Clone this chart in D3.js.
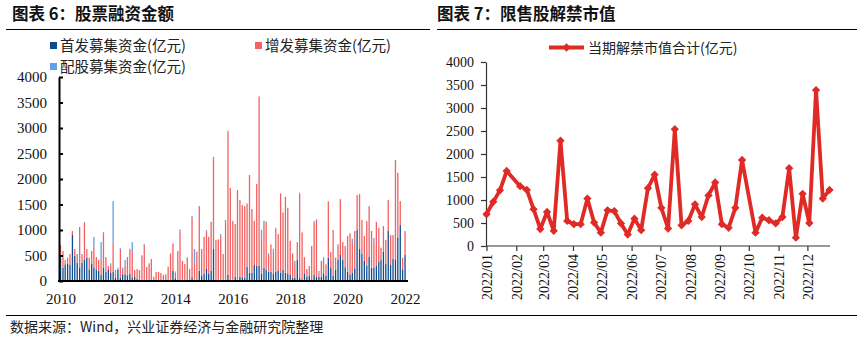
<!DOCTYPE html>
<html><head><meta charset="utf-8">
<script src="https://cdn.jsdelivr.net/npm/d3@7"></script>
<style>body{margin:0;background:#fff}svg{display:block}</style>
</head><body>
<svg id="c" width="864" height="343"></svg>
<script>
// ---------- Data: chart 6 (monthly, 2010-01 .. 2022-01) ----------
const startMonth = "2010-01";
const ipo = [464,261,327,333,313,901,496,359,268,359,424,457,229,333,268,229,202,118,255,183,215,157,176,65,
215,65,131,131,111,137,72,78,39,20,0,0,0,0,0,0,0,0,0,0,0,0,0,196,
52,0,20,0,0,0,0,72,20,0,202,111,137,235,137,196,627,20,20,20,0,20,118,20,20,85,20,85,72,65,281,163,163,313,294,294,137,261,215,183,183,150,176,202,163,215,163,150,
118,65,65,411,65,33,137,85,98,33,118,85,85,85,150,98,457,268,98,215,411,509,411,268,183,118,163,248,999,627,529,398,294,477,261,261,294,379,411,575,333,980,313,438,411,855,1097,229,509];
const spo = [241,327,84,124,216,79,131,150,790,131,719,170,228,255,385,241,209,293,679,287,79,150,562,85,
33,562,84,169,359,483,516,137,196,195,503,712,274,333,431,85,176,176,157,118,131,281,542,542,
111,588,946,392,333,464,235,1168,326,575,1267,477,731,731,731,966,1763,783,796,868,529,1155,2812,1808,1142,1032,1763,1502,1417,1404,1227,1914,1248,869,1606,3326,718,836,947,326,535,444,856,719,1554,1130,1489,1287,
672,477,281,353,1652,920,320,150,196,653,1025,1123,65,307,261,229,1097,300,901,242,294,1078,353,418,699,816,588,732,686,1071,666,484,881,992,719,510,868,666,242,502,470,607,588,463,1959,1267,470,228,471];
const rights = [0,0,0,0,0,0,0,20,0,39,13,0,0,0,209,0,0,353,26,0,0,39,829,65,
13,13,46,111,0,13,176,0,0,0,0,13,0,13,0,0,0,0,0,0,0,0,0,0,
20,0,46,0,0,0,0,33,281,0,0,39,0,33,0,0,45,0,0,33,0,20,17,0,20,0,0,0,0,0,13,0,0,0,0,0,144,85,0,33,0,39,13,0,0,0,0,0,
0,0,46,0,13,0,13,0,0,0,32,0,46,0,53,0,13,0,0,0,13,19,0,0,0,0,78,0,0,13,0,0,0,0,0,71,0,0,0,0,0,0,0,0,0,0,0,0,0];
const seriesNames6 = ["首发募集资金(亿元)","增发募集资金(亿元)","配股募集资金(亿元)"];
const xYears6 = ["2010","2012","2014","2016","2018","2020","2022"];
const yTicks = [0,500,1000,1500,2000,2500,3000,3500,4000];

// ---------- Data: chart 7 (weekly 2022) ----------
const weeks7 = ["2022-01-01","2022-01-08","2022-01-15","2022-01-22","2022-02-05","2022-02-12","2022-02-19","2022-02-26",
"2022-03-05","2022-03-12","2022-03-19","2022-03-26","2022-04-02","2022-04-09","2022-04-16","2022-04-23","2022-04-30",
"2022-05-07","2022-05-14","2022-05-21","2022-05-28","2022-06-04","2022-06-11","2022-06-18","2022-06-25",
"2022-07-02","2022-07-09","2022-07-16","2022-07-23","2022-07-30","2022-08-06","2022-08-13","2022-08-20","2022-08-27",
"2022-09-03","2022-09-10","2022-09-17","2022-09-24","2022-10-08","2022-10-15","2022-10-22","2022-10-29",
"2022-11-05","2022-11-12","2022-11-19","2022-11-26","2022-12-03","2022-12-10","2022-12-17","2022-12-24"];
const unlock7 = [690,960,1210,1630,1300,1220,800,370,740,330,2290,545,475,475,1030,510,290,775,760,490,250,
595,345,1255,1550,830,380,2540,450,545,905,630,1100,1380,475,395,830,1870,290,615,560,490,630,1690,180,1135,500,3390,1030,1220];
const seriesName7 = "当期解禁市值合计(亿元)";
const monthTicks7 = ["2022-01-01","2022-02-01","2022-03-01","2022-04-01","2022-05-01","2022-06-01","2022-07-01","2022-08-01","2022-09-01","2022-10-01","2022-11-01","2022-12-01"];

// ---------- Drawing ----------
const svg = d3.select("#c");
const CJK = "'Noto Sans CJK SC','Noto Sans',sans-serif";
const NUM = "'Liberation Serif','Times New Roman',serif";
const cDark = "#0E4C8C", cRed = "#F26262", cLight = "#62A0E2", cLine = "#E02A25";
const fmt = d3.format("d");

// titles & rules
svg.append("text").attr("x",12).attr("y",20).attr("font-family",CJK).attr("font-weight",700).attr("font-size",16.5).attr("fill","#111").text("图表 6：股票融资金额");
svg.append("text").attr("x",437).attr("y",20).attr("font-family",CJK).attr("font-weight",700).attr("font-size",16.5).attr("fill","#111").text("图表 7：限售股解禁市值");
svg.append("line").attr("x1",6).attr("x2",430).attr("y1",29.5).attr("y2",29.5).attr("stroke","#000").attr("stroke-width",1);
svg.append("line").attr("x1",437).attr("x2",857).attr("y1",29.5).attr("y2",29.5).attr("stroke","#000").attr("stroke-width",1);
svg.append("line").attr("x1",6).attr("x2",857).attr("y1",315.5).attr("y2",315.5).attr("stroke","#000").attr("stroke-width",1);
svg.append("text").attr("x",10).attr("y",332).attr("font-family",CJK).attr("font-size",14).attr("fill","#222").text("数据来源：Wind，兴业证券经济与金融研究院整理");

// ----- chart 6 -----
const parseM = d3.timeParse("%Y-%m");
const m0 = parseM(startMonth);
const rows6 = ipo.map((v,i)=>({date:d3.timeMonth.offset(m0,i), a:v, b:spo[i], c:rights[i]}));
const xL = d3.scaleTime().domain([new Date(2010,0,1), new Date(2022,0,1)]).range([60.5,405]);
const yL = d3.scaleLinear().domain([0,4000]).range([281,77]);
const stack = d3.stack().keys(["a","b","c"])(rows6);
const cols6 = [cDark,cRed,cLight];
const gL = svg.append("g");
stack.forEach((s,k)=>{
  gL.append("g").selectAll("rect").data(s).join("rect")
    .attr("x",d=>xL(d.data.date)-0.6).attr("width",1.3)
    .attr("y",d=>yL(d[1])).attr("height",d=>Math.max(0,yL(d[0])-yL(d[1])))
    .attr("fill",cols6[k]);
});
const yAxL = svg.append("g").attr("transform","translate(59,0)")
  .call(d3.axisLeft(yL).tickValues(yTicks).tickFormat(fmt).tickSizeInner(-4).tickSizeOuter(0).tickPadding(12));
yAxL.select(".domain").attr("stroke","#000").attr("stroke-width",2);
yAxL.selectAll(".tick line").attr("stroke","#000").attr("stroke-width",2);
yAxL.selectAll("text").attr("font-family",NUM).attr("font-size",15).attr("fill","#111");
const xAxL = svg.append("g").attr("transform","translate(0,281)")
  .call(d3.axisBottom(xL).tickValues(xYears6.map(y=>new Date(+y,0,1))).tickFormat(d3.timeFormat("%Y")).tickSize(0).tickPadding(12));
xAxL.select(".domain").attr("d","M58,0H408").attr("stroke","#000").attr("stroke-width",2);
xAxL.selectAll("text").attr("font-family",NUM).attr("font-size",15).attr("fill","#111");

// legend 6
const leg6 = [[50,45.5,0],[255,45.5,1],[50,66.5,2]];
leg6.forEach(([x,y,k])=>{
  svg.append("rect").attr("x",x).attr("y",y-3.5).attr("width",7).attr("height",7).attr("fill",cols6[k]);
  svg.append("text").attr("x",x+10).attr("y",y+5).attr("font-family",CJK).attr("font-size",14.5).attr("fill","#222").text(seriesNames6[k]);
});

// ----- chart 7 -----
const parseD = d3.timeParse("%Y-%m-%d");
const rows7 = weeks7.map((d,i)=>({date:parseD(d), v:unlock7[i]}));
const xR = d3.scaleTime().domain([parseD("2022-01-01"), parseD("2022-12-24")]).range([486.5,829.5]);
const yR = d3.scaleLinear().domain([0,4000]).range([246,62]);
const yAxR = svg.append("g").attr("transform","translate(486,0)")
  .call(d3.axisLeft(yR).tickValues(yTicks).tickFormat(fmt).tickSizeInner(5).tickSizeOuter(0).tickPadding(7));
yAxR.select(".domain").attr("stroke","#333").attr("stroke-width",1.2);
yAxR.selectAll(".tick line").attr("stroke","#333").attr("stroke-width",1.2);
yAxR.selectAll("text").attr("font-family",NUM).attr("font-size",14).attr("fill","#111");
const xAxR = svg.append("g").attr("transform","translate(0,246)")
  .call(d3.axisBottom(xR).tickValues(monthTicks7.map(parseD)).tickFormat(d3.timeFormat("%Y/%m")).tickSizeInner(5).tickSizeOuter(0));
xAxR.select(".domain").attr("d","M486,0H830").attr("stroke","#333").attr("stroke-width",1.2);
xAxR.selectAll(".tick line").attr("stroke","#333").attr("stroke-width",1.2);
xAxR.selectAll("text").attr("font-family",NUM).attr("font-size",14).attr("fill","#111")
  .attr("transform","rotate(-90)").attr("text-anchor","end").attr("x",-8).attr("y",0).attr("dy","0.35em");

const line = d3.line().x(d=>xR(d.date)).y(d=>yR(d.v));
svg.append("path").datum(rows7).attr("d",line).attr("fill","none").attr("stroke",cLine).attr("stroke-width",3.8).attr("stroke-linejoin","round");
const diamond = d3.symbol().type(d3.symbolDiamond2).size(44);
svg.append("g").selectAll("path").data(rows7).join("path")
  .attr("transform",d=>`translate(${xR(d.date)},${yR(d.v)})`).attr("d",diamond).attr("fill",cLine);

// legend 7
svg.append("line").attr("x1",549).attr("x2",584).attr("y1",47.5).attr("y2",47.5).attr("stroke",cLine).attr("stroke-width",3.8);
svg.append("path").attr("transform","translate(566.5,47.5)").attr("d",diamond).attr("fill",cLine);
svg.append("text").attr("x",588).attr("y",52.5).attr("font-family",CJK).attr("font-size",14).attr("fill","#222").text(seriesName7);
</script>
</body></html>
